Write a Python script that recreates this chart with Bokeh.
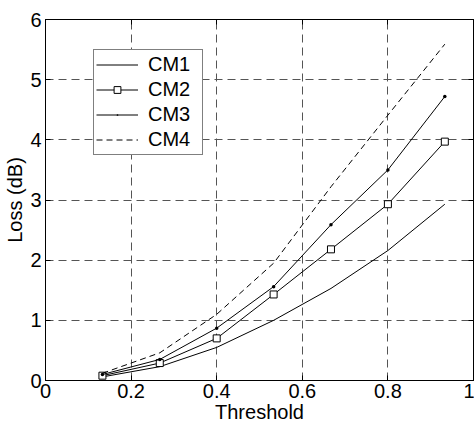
from bokeh.plotting import figure
from bokeh.models import (Range1d, FixedTicker, CustomJSTickFormatter, LinearAxis,
                          Legend, LegendItem)
from bokeh.embed import file_html
from bokeh.resources import INLINE

# ---- data ----
threshold = [0.133, 0.267, 0.400, 0.533, 0.667, 0.800, 0.933]
cm1 = [0.06, 0.23, 0.55, 1.00, 1.53, 2.16, 2.93]
cm2 = [0.08, 0.29, 0.70, 1.43, 2.18, 2.93, 3.97]
cm3 = [0.10, 0.35, 0.87, 1.56, 2.59, 3.50, 4.72]
cm4 = [0.12, 0.46, 1.10, 1.95, 3.22, 4.41, 5.59]
x_ticks = [0, 0.2, 0.4, 0.6, 0.8, 1.0]
y_ticks = [0, 1, 2, 3, 4, 5, 6]
series_names = ["CM1", "CM2", "CM3", "CM4"]

FONT = "Liberation Sans"
FS = "20px"

p = figure(width=474, height=429,
           min_border_left=45, min_border_right=1, min_border_top=19, min_border_bottom=49,
           x_range=Range1d(0, 1), y_range=Range1d(0, 6),
           output_backend="svg", toolbar_location=None,
           background_fill_color="white", border_fill_color="white")

p.outline_line_color = "black"
p.outline_line_width = 1

fmt = CustomJSTickFormatter(code="return String(+tick.toFixed(1));")
for ax, ticks in ((p.xaxis[0], x_ticks), (p.yaxis[0], y_ticks)):
    ax.ticker = FixedTicker(ticks=ticks)
    ax.formatter = fmt
    ax.major_tick_in = 5
    ax.major_tick_out = 0
    ax.minor_tick_line_color = None
    ax.axis_line_color = "black"
    ax.major_tick_line_color = "black"
    ax.major_label_text_font = FONT
    ax.major_label_text_font_size = FS
    ax.major_label_text_color = "black"
    ax.axis_label_text_font = FONT
    ax.axis_label_text_font_size = FS
    ax.axis_label_text_font_style = "normal"
    ax.axis_label_text_color = "black"

p.xaxis[0].axis_label = "Threshold"
p.yaxis[0].axis_label = "Loss (dB)"
p.xaxis[0].major_label_standoff = 3
p.xaxis[0].axis_label_standoff = 0
p.yaxis[0].major_label_standoff = 4
p.yaxis[0].axis_label_standoff = 1

blank = CustomJSTickFormatter(code="return '';")
for loc, ticks in (("above", x_ticks), ("right", y_ticks)):
    ax = LinearAxis(ticker=FixedTicker(ticks=ticks), formatter=blank,
                    major_tick_in=5, major_tick_out=0,
                    minor_tick_line_color=None, axis_line_color="black",
                    major_label_text_font_size="1px", major_label_standoff=0)
    p.add_layout(ax, loc)

for g in (p.xgrid[0], p.ygrid[0]):
    g.grid_line_color = "#555555"
    g.grid_line_dash = "8 5"
    g.grid_line_width = 1

r1 = p.line(threshold, cm1, line_color="black", line_width=1)
r2 = p.line(threshold, cm2, line_color="black", line_width=1)
r2m = p.scatter(threshold, cm2, marker="square", size=7, fill_color="white",
                line_color="black", line_width=1)
r3 = p.line(threshold, cm3, line_color="black", line_width=1)
r3m = p.scatter(threshold, cm3, marker="dot", size=14, fill_color="black",
                line_color="black", line_width=1)
r4 = p.line(threshold, cm4, line_color="black", line_width=1, line_dash="6 4")

legend = Legend(items=[
    LegendItem(label=series_names[0], renderers=[r1]),
    LegendItem(label=series_names[1], renderers=[r2, r2m]),
    LegendItem(label=series_names[2], renderers=[r3, r3m]),
    LegendItem(label=series_names[3], renderers=[r4]),
], location=(48, 225))
legend.label_text_font = FONT
legend.label_text_font_size = FS
legend.label_text_color = "black"
legend.glyph_width = 42
legend.glyph_height = 17
legend.label_height = 25
legend.label_width = 52
legend.spacing = 0
legend.padding = 2
legend.margin = 0
legend.label_standoff = 10
legend.border_line_color = "black"
legend.border_line_width = 1
legend.background_fill_alpha = 1
p.add_layout(legend, "center")

open("out.html", "w").write(file_html(p, INLINE))
